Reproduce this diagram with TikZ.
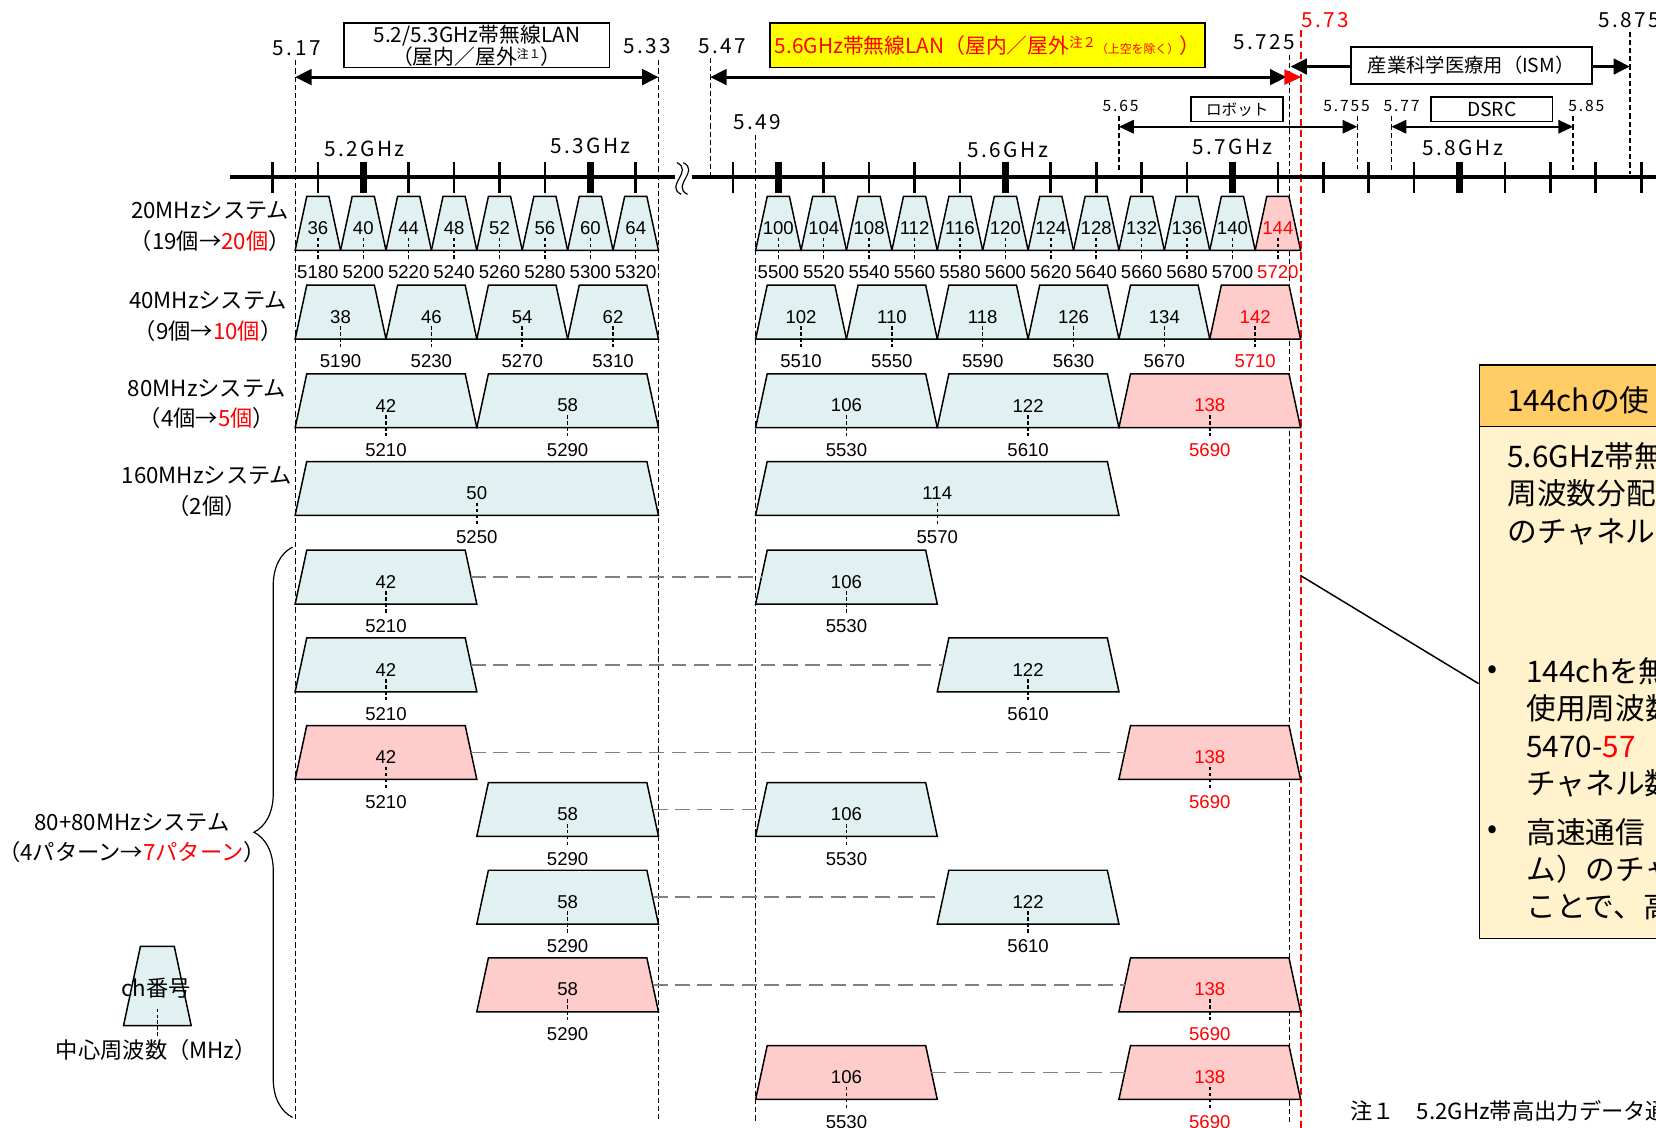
\documentclass[tikz,border=0pt]{standalone}
\usepackage{fontspec}
\setmainfont{Noto Sans CJK JP}
\newfontfamily\arialfont{Liberation Sans}
\newfontfamily\spacedfont[LetterSpace=12]{Noto Sans CJK JP}
\usetikzlibrary{arrows.meta,positioning,decorations.pathreplacing,calc}
\definecolor{chblue}{HTML}{E1F1F1}
\definecolor{chpink}{HTML}{FFCCCC}
\definecolor{lanyel}{HTML}{FFFF00}
\definecolor{notehd}{HTML}{FFCC66}
\definecolor{notebg}{HTML}{FFF2CC}
\definecolor{jred}{HTML}{FF0000}

% trapezoid round a box node: name, inset, fill
\newcommand{\trap}[3]{%
  \draw[chline, fill=#3] (#1.south west) -- ([xshift=#2]#1.north west)
    -- ([xshift=-#2]#1.north east) -- (#1.south east) -- cycle;}

% one channel: name, ch number, bottom y, width, fill, text colour
\newcommand{\chan}[6]{%
  \pgfmathtruncatemacro\fq{5000+5*#2}%
  \pgfmathsetmacro\cx{2.15*\fq-(\fq>5400?11088:10836)}%
  \node[chbox, minimum width=#4] (#1) at (\cx,#3) {};
  \trap{#1}{0.275cm}{#5}
  \node[num, text=#6] (#1c) at (\cx,#3-21) {#2};
  \draw[cmark] (\cx,#3-12) -- (\cx,#3+8);
  \node[num, text=#6] (#1f) at (\cx,#3+21) {\fq};
}

\begin{document}
\begin{tikzpicture}[x=0.025cm, y=-0.025cm,
    font=\fontsize{15}{20.6}\selectfont,
    chbox/.style={rectangle, minimum height=1.275cm, inner sep=0pt, outer sep=0pt, anchor=south},
    chline/.style={draw, line width=1pt},
    num/.style={font=\arialfont\fontsize{12.5}{14}\selectfont, inner sep=0pt},
    cmark/.style={line width=1pt, dash pattern=on 2.5pt off 1.5pt},
    pair/.style={gray, line width=1.1pt, dash pattern=on 10pt off 5pt},
    guide/.style={line width=0.9pt, dash pattern=on 3.5pt off 2pt},
    axisln/.style={line width=2.7pt},
    tk/.style={line width=1.8pt},
    bigtk/.style={line width=4.5pt},
    band/.style={line width=2pt, >={Triangle[length=11pt,width=10.5pt]}, <->},
    sband/.style={line width=1.5pt, >={Triangle[length=10pt,width=9pt]}, <->},
    tagbox/.style={draw, line width=1.2pt, fill=white, inner sep=0pt, align=center},
    fq/.style={font=\spacedfont\fontsize{14}{16}\selectfont, inner sep=0pt},
    sfq/.style={font=\spacedfont\fontsize{10.5}{12}\selectfont, inner sep=0pt},
    lbl/.style={align=center, inner sep=0pt},
    ntxt/.style={anchor=west, inner sep=0pt, font=\fontsize{20}{24}\selectfont}]

  \clip (0,0) rectangle (1568,1068);

  % frequency guides
  \foreach \x/\a/\b in {279.5/57/1062, 623.5/57/1062, 672.5/55/166, 715.5/128/1062,
      1059.5/110/164, 1220.75/52/1062, 1285.25/110/160, 1317.5/110/164,
      1489.5/110/164, 1543.25/30/165}
    \draw[guide] (\x,\a) -- (\x,\b);
  \draw[jred, line width=1.2pt, dash pattern=on 5pt off 2.5pt] (1231.5,28) -- (1231.5,1068);

  % axis
  \draw[axisln] (218,168) -- (639,168);
  \draw[axisln] (655,168) -- (1568,168);
  \foreach \o in {-3,3}
    \draw[line width=0.8pt] (644+\o,154) .. controls (660+\o,162) and (632+\o,176) .. (648+\o,184);
  \foreach \f in {5160,5180,...,5320}
    {\pgfmathsetmacro\tx{2.15*\f-10836}\draw[tk] (\tx,153) -- (\tx,183);}
  \foreach \f in {5480,5500,...,5880}
    {\pgfmathsetmacro\tx{2.15*\f-11088}\draw[tk] (\tx,153) -- (\tx,183);}
  \foreach \x in {344,559,737,952,1167,1382}
    \draw[bigtk] (\x,153) -- (\x,183);

  % frequency labels
  \node[fq] (l517) at (281,46) {5.17};
  \node[fq] (l533) at (613,44) {5.33};
  \node[fq] (l547) at (684,44) {5.47};
  \node[fq] (l549) at (717,116) {5.49};
  \node[fq] (l5725) at (1197,40) {5.725};
  \node[fq, text=jred] (l573) at (1255,19) {5.73};
  \node[fq, anchor=west] (l5875) at (1513,19) {5.875};
  \node[sfq] (l565) at (1061,100) {5.65};
  \node[sfq] (l5755) at (1275,100) {5.755};
  \node[sfq] (l577) at (1327,100) {5.77};
  \node[sfq] (l585) at (1502,100) {5.85};
  \node[fq] (g52) at (345,141) {5.2GHz};
  \node[fq] (g53) at (559,138) {5.3GHz};
  \node[fq] (g56) at (954,142) {5.6GHz};
  \node[fq] (g57) at (1167,139) {5.7GHz};
  \node[fq] (g58) at (1385,140) {5.8GHz};

  % bands
  \draw[band] (279.5,73) -- (623.5,73);
  \node[tagbox, minimum width=6.275cm, minimum height=1.05cm, font=\fontsize{14}{15}\selectfont] (lan52) at (451.5,43)
    {5.2/5.3GHz帯無線LAN\\（屋内／屋外\raisebox{.5ex}{\fontsize{8}{8}\selectfont 注１}）};
  \draw[band] (672.5,73) -- (1218,73);
  \fill[jred] (1216,65.5) -- (1232,73) -- (1216,80.5) -- cycle;
  \node[tagbox, fill=lanyel, text=jred, minimum width=10.3cm, minimum height=1.05cm, font=\fontsize{14}{15}\selectfont] (lan56) at (935,43)
    {5.6GHz帯無線LAN（屋内／屋外\raisebox{.5ex}{\fontsize{9}{9}\selectfont 注２}{\fontsize{8}{8}\selectfont（上空を除く）}）};
  \draw[band] (1222,63) -- (1543.25,63);
  \node[tagbox, minimum width=5.7cm, minimum height=0.875cm, font=\fontsize{13}{14}\selectfont] (ism) at (1393,62) {産業科学医療用（ISM）};
  \draw[sband] (1059.5,120) -- (1285.25,120);
  \node[tagbox, minimum width=2.175cm, minimum height=0.575cm, font=\fontsize{10.5}{11}\selectfont] (robot) at (1171.5,103.5) {ロボット};
  \draw[sband] (1317.5,120) -- (1489.5,120);
  \node[tagbox, minimum width=2.875cm, minimum height=0.575cm, font=\fontsize{13}{14}\selectfont] (dsrc) at (1412.5,103.5) {DSRC};

  % 20 / 40 / 80 / 160 MHz
  \foreach \c in {36,40,...,64} {\chan{a\c}{\c}{237}{1.075cm}{chblue}{black}}
  \foreach \c in {100,104,...,140} {\chan{a\c}{\c}{237}{1.075cm}{chblue}{black}}
  \chan{a144}{144}{237}{1.075cm}{chpink}{jred}
  \foreach \c in {38,46,54,62,102,110,118,126,134} {\chan{b\c}{\c}{321}{2.15cm}{chblue}{black}}
  \chan{b142}{142}{321}{2.15cm}{chpink}{jred}
  \foreach \c in {42,58,106,122} {\chan{c\c}{\c}{405}{4.3cm}{chblue}{black}}
  \chan{c138}{138}{405}{4.3cm}{chpink}{jred}
  \foreach \c in {50,114} {\chan{d\c}{\c}{488}{8.6cm}{chblue}{black}}

  % 80+80 MHz pairs
  \foreach \i/\y/\l/\r/\fl/\tl/\fr/\tr in {
      1/572/42/106/chblue/black/chblue/black,
      2/655/42/122/chblue/black/chblue/black,
      3/738/42/138/chpink/black/chpink/jred,
      4/792/58/106/chblue/black/chblue/black,
      5/875/58/122/chblue/black/chblue/black,
      6/958/58/138/chpink/black/chpink/jred,
      7/1041/106/138/chpink/black/chpink/jred}
    {\chan{pl\i}{\l}{\y}{4.3cm}{\fl}{\tl}
     \chan{pr\i}{\r}{\y}{4.3cm}{\fr}{\tr}
     \draw[pair] ([xshift=-0.1375cm]pl\i.east) -- ([xshift=0.1375cm]pr\i.west);}

  % row titles
  \node[lbl] (t20) at (199,214.5) {20MHzシステム\\（19個→{\color{jred}20個}）};
  \node[lbl] (t40) at (197,299.5) {40MHzシステム\\（9個→{\color{jred}10個}）};
  \node[lbl] (t80) at (196,382.5) {80MHzシステム\\（4個→{\color{jred}5個}）};
  \node[lbl] (t160) at (196,465.5) {160MHzシステム\\（2個）};
  \node[lbl] (t8080) at (125,793.5) {80+80MHzシステム\\（4パターン→{\color{jred}7パターン}）};
  \draw[line width=0.8pt, decorate, decoration={brace, amplitude=26pt}] (277,1058) -- (277,518);

  % legend
  \node[chbox, minimum width=1.6cm, minimum height=1.875cm] (lgd) at (149,971) {};
  \trap{lgd}{0.4cm}{chblue}
  \node[inner sep=0pt] (lgdc) at (148,936) {ch番号};
  \draw[cmark] (149,955) -- (149,982);
  \node[inner sep=0pt] (lgdf) at (148,994) {中心周波数（MHz）};

  % callout
  \node[draw, line width=1pt, fill=notebg, anchor=north west, minimum width=6cm, minimum height=13.575cm, inner sep=0pt] (note) at (1400,345) {};
  \node[draw, line width=1pt, fill=notehd, anchor=north west, minimum width=6cm, minimum height=1.45cm, inner sep=0pt] (notehd) at (1400,345) {};
  \coordinate (lead) at (1231.5,545);
  \draw[line width=1pt] (lead) -- ($(note.west)+(0,30)$);
  \node[ntxt] (nh) at (1427,379) {144chの使};
  \node[ntxt] (n1) at (1427,432) {5.6GHz帯無};
  \node[ntxt] (n2) at (1427,467) {周波数分配};
  \node[ntxt] (n3) at (1427,503) {のチャネル（};
  \node[ntxt] (b1) at (1408,636) {•};
  \node[ntxt] (n4) at (1445,636) {144chを無};
  \node[ntxt] (n5) at (1445,671) {使用周波数};
  \node[ntxt] (n6) at (1445,707) {5470-{\color{jred}57}};
  \node[ntxt] (n7) at (1445,742) {チャネル数};
  \node[ntxt] (b2) at (1408,788) {•};
  \node[ntxt] (n8) at (1445,788) {高速通信};
  \node[ntxt] (n9) at (1445,823) {ム）のチャ};
  \node[ntxt] (n10) at (1445,858) {ことで、高速};

  % footnote
  \node[anchor=west, inner sep=0pt, font=\fontsize{15}{16}\selectfont] (fn1) at (1278,1052) {注１　5.2GHz帯高出力データ通};
\end{tikzpicture}
\end{document}
